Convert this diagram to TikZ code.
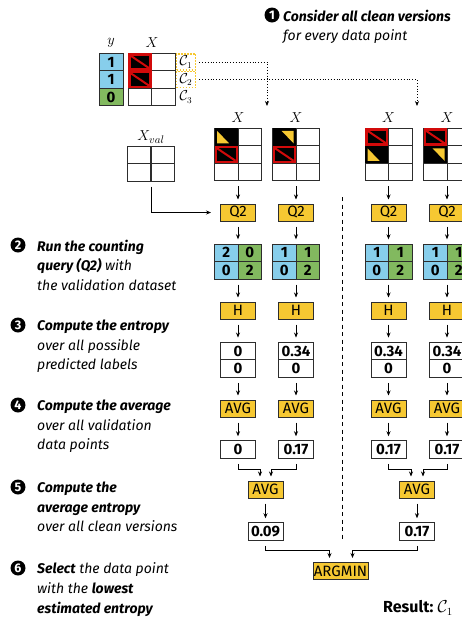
\documentclass[tikz,border=0pt]{standalone}
\usepackage{amsmath,amssymb}
\usepackage{fontspec}
\setmainfont{Fira Sans}
\usepackage{tikz}
\usetikzlibrary{positioning,arrows.meta,calc,fit}

\definecolor{cblue}{RGB}{135,206,235}
\definecolor{cgreen}{RGB}{130,185,95}
\definecolor{cyellow}{RGB}{246,200,50}
\definecolor{cred}{RGB}{210,10,10}
\definecolor{cline}{RGB}{45,45,45}

\tikzset{
  cell/.style={draw=cline, line width=1pt, minimum width=23.5pt, minimum height=17.5pt, inner sep=0pt,
    font=\bfseries\fontsize{15}{15}\selectfont},
  opbox/.style={draw=cline, fill=cyellow, line width=1pt, minimum width=35pt, minimum height=17pt, inner sep=0pt,
    font=\fontsize{15}{15}\selectfont},
  valbox/.style={draw=cline, fill=white, line width=1pt, minimum width=35pt, minimum height=17.5pt, inner sep=0pt,
    font=\bfseries\fontsize{15}{15}\selectfont},
  mathlab/.style={inner sep=0pt, font=\fontsize{15.5}{15.5}\selectfont},
  cbox/.style={draw=cyellow, line width=1.6pt, dash pattern=on 1.6pt off 1.4pt, minimum width=19pt, minimum height=16pt},
  flow/.style={-{Stealth[length=5pt,width=4pt]}, line width=0.7pt, shorten <=5pt, shorten >=4pt},
  dotflow/.style={-{Stealth[length=5pt,width=4pt]}, line width=0.8pt, dotted, shorten <=3pt},
  stepnum/.style={circle, fill=black, text=white, inner sep=0pt, minimum size=15pt,
    font=\bfseries\fontsize{12.5}{12.5}\selectfont},
  steptext/.style={anchor=north west, align=left, inner sep=0pt,
    font=\itshape\fontsize{14}{19.7}\selectfont},
}

% cell with a dirty value
\newcommand{\dirtycell}[1]{%
  \fill[cred] ($(#1.south west)+(0.6pt,0.6pt)$) rectangle ($(#1.north east)+(-0.6pt,-0.6pt)$);
  \fill[black] ($(#1.south west)+(3pt,3pt)$) rectangle ($(#1.north east)+(-3pt,-3pt)$);
  \draw[cred, line width=2pt] ($(#1.north west)+(3pt,-3pt)$) -- ($(#1.south east)+(-3pt,3pt)$);
}
% cell with a candidate repair
\newcommand{\candll}[1]{%
  \fill[black] ($(#1.south west)+(0.6pt,0.6pt)$) rectangle ($(#1.north east)+(-0.6pt,-0.6pt)$);
  \fill[cyellow] ($(#1.north west)+(3pt,-3pt)$) -- ($(#1.south west)+(3pt,3pt)$) -- ($(#1.south west)+(15pt,3pt)$) -- cycle;
}
\newcommand{\candur}[1]{%
  \fill[black] ($(#1.south west)+(0.6pt,0.6pt)$) rectangle ($(#1.north east)+(-0.6pt,-0.6pt)$);
  \fill[cyellow] ($(#1.north east)+(-15pt,-3pt)$) -- ($(#1.north east)+(-3pt,-3pt)$) -- ($(#1.south east)+(-3pt,3pt)$) -- cycle;
}

\begin{document}
\begin{tikzpicture}[x=1pt,y=-1pt]
	\useasboundingbox (0,0) rectangle (462,622);
	\clip (0,0) rectangle (462,622);
	
	% step texts
	\node[stepnum] (s1) at (272,15) {1};
	\node[steptext] (t1) at (283,9.5) {\textbf{Consider all clean versions}\\for every data point};
	
	\node[stepnum] (s2) at (18,245) {2};
	\node[steptext] (t2) at (37,239.5) {\textbf{Run the counting}\\\textbf{query (Q2)} with\\the validation dataset};
	
	\node[stepnum] (s3) at (18,325) {3};
	\node[steptext] (t3) at (37,319.5) {\textbf{Compute the entropy}\\over all possible\\predicted labels};
	
	\node[stepnum] (s4) at (18,405) {4};
	\node[steptext] (t4) at (37,399.5) {\textbf{Compute the average}\\over all validation\\data points};
	
	\node[stepnum] (s5) at (18,487) {5};
	\node[steptext] (t5) at (37,481.5) {\textbf{Compute the}\\\textbf{average entropy}\\over all clean versions};
	
	\node[stepnum] (s6) at (18,568) {6};
	\node[steptext] (t6) at (37,562.5) {\textbf{Select} the data point\\with the \textbf{lowest}\\\textbf{estimated entropy}};
	
	% dirty data set
	\foreach \r/\ry/\yv/\yc in {1/62/1/cblue, 2/79.5/1/cblue, 3/97/0/cgreen} {
		\node[cell, fill=\yc, minimum width=24pt] (y-\r) at (111,\ry) {\yv};
		\node[cell] (d-\r1) at (140,\ry) {};
		\node[cell] (d-\r2) at (163.5,\ry) {};
	}
	\node[mathlab] (ylab) at (111,43) {$y$};
	\node[mathlab] (dlab) at (152,43) {$X$};
	\dirtycell{d-11}
	\dirtycell{d-21}
	
	\node[mathlab, cbox, font=\fontsize{13.5}{13.5}\selectfont] (c1) at (186,62) {$\mathcal{C}_1$};
	\node[mathlab, cbox, font=\fontsize{13.5}{13.5}\selectfont] (c2) at (186,79.5) {$\mathcal{C}_2$};
	\node[mathlab, font=\fontsize{13.5}{13.5}\selectfont] (c3) at (186,97) {$\mathcal{C}_3$};
	
	\coordinate (g1) at (267,106);
	\coordinate (g2) at (417,106);
	\draw[dotflow] (c1.east) -| (g1);
	\draw[dotflow] (c2.east) -| (g2);
	
	% validation set
	\foreach \r/\ry in {1/154.75, 2/172.25} {
		\node[cell] (xv-\r1) at (139.5,\ry) {};
		\node[cell] (xv-\r2) at (162.5,\ry) {};
	}
	\node[fit=(xv-11)(xv-22), inner sep=0pt] (xv) {};
	\node[mathlab] (xvlab) at (151,137) {$X_{val}$};
	
	% one column per clean version
	\foreach \c/\cx/\ca/\cb/\ea/\v in {1/238/2/0/0/0, 2/296/1/1/0.34/0.17, 3/388.5/1/1/0.34/0.17, 4/447/1/1/0.34/0.17} {
		\foreach \r/\ry in {1/137, 2/154.5, 3/172} {
			\node[cell] (x\c-\r1) at (\cx-11.75,\ry) {};
			\node[cell] (x\c-\r2) at (\cx+11.75,\ry) {};
		}
		\node[fit=(x\c-11)(x\c-32), inner sep=0pt] (xt\c) {};
		\node[mathlab] (xl\c) at (\cx,118) {$X$};
		
		\node[opbox] (q\c) at (\cx,212.5) {Q2};
		
		\node[cell, fill=cblue] (n\c-11) at (\cx-11.75,252.75) {\ca};
		\node[cell, fill=cgreen] (n\c-12) at (\cx+11.75,252.75) {\cb};
		\node[cell, fill=cblue] (n\c-21) at (\cx-11.75,270.25) {0};
		\node[cell, fill=cgreen] (n\c-22) at (\cx+11.75,270.25) {2};
		\node[fit=(n\c-11)(n\c-22), inner sep=0pt] (nt\c) {};
		
		\node[opbox] (h\c) at (\cx,310.5) {H};
		
		\node[valbox] (e\c-1) at (\cx,351) {\ea};
		\node[valbox] (e\c-2) at (\cx,368.5) {0};
		\node[fit=(e\c-1)(e\c-2), inner sep=0pt] (et\c) {};
		
		\node[opbox] (a\c) at (\cx,408.5) {AVG};
		\node[valbox] (v\c) at (\cx,449.5) {\v};
		
		\draw[flow] (xt\c) -- (q\c);
		\draw[flow] (q\c) -- (nt\c);
		\draw[flow] (nt\c) -- (h\c);
		\draw[flow] (h\c) -- (et\c);
		\draw[flow] (et\c) -- (a\c);
		\draw[flow] (a\c) -- (v\c);
	}
	
	\candll{x1-11}
	\dirtycell{x1-21}
	\candur{x2-11}
	\dirtycell{x2-21}
	\dirtycell{x3-11}
	\candll{x3-21}
	\dirtycell{x4-11}
	\candur{x4-21}
	
	\draw[flow, shorten >=9pt] (xv) |- (q1);
	
	% separator
	\draw[line width=0.8pt, dash pattern=on 4pt off 3.5pt] (342,197) -- (342,540);
	
	% averages over clean versions
	\node[opbox] (m1) at (265.5,489.5) {AVG};
	\node[opbox] (m2) at (417,489.5) {AVG};
	\node[valbox] (f1) at (265.5,531.5) {0.09};
	\node[valbox] (f2) at (417,531.5) {0.17};
	\node[opbox, minimum width=55pt] (am) at (340.5,571) {ARGMIN};
	
	\draw[flow] (v1.south) -- ++(0,11) -| ($(m1.north)+(-5.5pt,0)$);
	\draw[flow] (v2.south) -- ++(0,11) -| ($(m1.north)+(5.5pt,0)$);
	\draw[flow] (v3.south) -- ++(0,11) -| ($(m2.north)+(-6pt,0)$);
	\draw[flow] (v4.south) -- ++(0,11) -| ($(m2.north)+(6pt,0)$);
	\draw[flow] (m1) -- (f1);
	\draw[flow] (m2) -- (f2);
	\draw[flow] (f1.south) -- ++(0,10) -| ($(am.north)+(-11pt,0)$);
	\draw[flow] (f2.south) -- ++(0,10) -| ($(am.north)+(12pt,0)$);
	
	\node[anchor=west, inner sep=0pt, font=\fontsize{16}{16}\selectfont] (res) at (383,608) {\textbf{Result:}~$\mathcal{C}_1$};
	
\end{tikzpicture}
\end{document}
